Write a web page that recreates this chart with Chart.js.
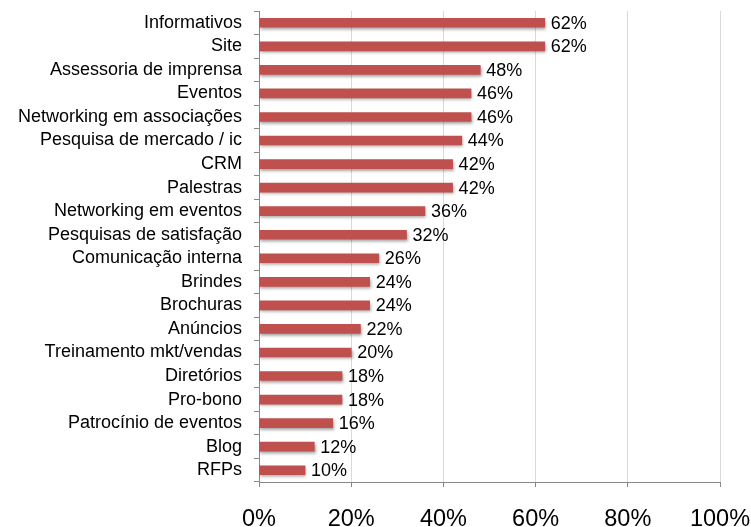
<!DOCTYPE html>
<html>
<head>
<meta charset="utf-8">
<script src="https://cdn.jsdelivr.net/npm/chart.js@4"></script>
<style>
    html, body { margin: 0; padding: 0; background: #fff; }
</style>
</head>
<body>
<canvas id="chart" width="751" height="527"></canvas>
<script>
const categories = [
    "Informativos", "Site", "Assessoria de imprensa", "Eventos",
    "Networking em associações", "Pesquisa de mercado / ic", "CRM", "Palestras",
    "Networking em eventos", "Pesquisas de satisfação", "Comunicação interna",
    "Brindes", "Brochuras", "Anúncios", "Treinamento mkt/vendas", "Diretórios",
    "Pro-bono", "Patrocínio de eventos", "Blog", "RFPs"
];
const values = [62, 62, 48, 46, 46, 44, 42, 42, 36, 32, 26, 24, 24, 22, 20, 18, 18, 16, 12, 10];
const xTicks = [0, 20, 40, 60, 80, 100];

const FONT = "'Liberation Sans', Arial, Helvetica, sans-serif";

// shadow under the bars + value labels on the right
const barExtras = {
    id: 'barExtras',
    beforeDatasetsDraw(chart) {
        const ctx = chart.ctx;
        ctx.save();
        ctx.shadowColor = 'rgba(0,0,0,0.35)';
        ctx.shadowOffsetX = 1;
        ctx.shadowOffsetY = 2;
        ctx.shadowBlur = 3;
    },
    afterDatasetsDraw(chart) {
        const ctx = chart.ctx;
        ctx.restore();
        ctx.save();
        ctx.font = '18px ' + FONT;
        ctx.fillStyle = '#000';
        ctx.textBaseline = 'middle';
        ctx.textAlign = 'left';
        chart.getDatasetMeta(0).data.forEach((bar, i) => {
            ctx.fillText(values[i] + '%', bar.x + 6, bar.y + 1);
        });
        ctx.restore();
    }
};

new Chart(document.getElementById('chart'), {
    type: 'bar',
    data: {
        labels: categories,
        datasets: [{
            data: values,
            backgroundColor: '#C0504D',
            barThickness: 9,
            borderWidth: 0
        }]
    },
    options: {
        indexAxis: 'y',
        responsive: false,
        animation: false,
        layout: { padding: { top: 11, right: 31, left: 0, bottom: 0 } },
        plugins: {
            legend: { display: false },
            tooltip: { enabled: false }
        },
        scales: {
            x: {
                min: 0,
                max: 100,
                afterBuildTicks(scale) {
                    scale.ticks = xTicks.map(v => ({ value: v }));
                },
                afterFit(scale) {
                    scale.height = 45;
                    scale.paddingLeft = 0;
                    scale.paddingRight = 0;
                },
                ticks: {
                    callback: v => v + '%',
                    color: '#000',
                    font: { family: FONT, size: 23.5 },
                    padding: 18,
                    maxRotation: 0
                },
                grid: {
                    color: '#d9d9d9',
                    tickColor: '#888',
                    tickLength: 5,
                    lineWidth: 1
                },
                border: { color: '#888' }
            },
            y: {
                afterFit(scale) {
                    scale.width = 259;
                    scale.paddingTop = 0;
                    scale.paddingBottom = 0;
                },
                ticks: {
                    color: '#000',
                    font: { family: FONT, size: 18 },
                    padding: 12,
                    autoSkip: false
                },
                grid: {
                    drawOnChartArea: false,
                    drawTicks: true,
                    tickLength: 5,
                    tickColor: '#888',
                    offset: true
                },
                border: { color: '#888' }
            }
        }
    },
    plugins: [barExtras]
});
</script>
</body>
</html>
